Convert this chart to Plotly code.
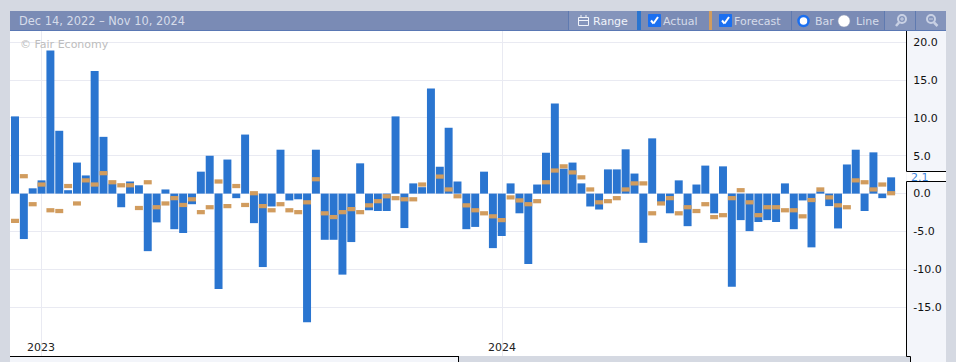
import plotly.graph_objects as go

actual = [10.2,-6.0,0.7,1.75,18.9,8.3,0.45,4.1,2.4,16.2,
          7.5,1.3,-1.8,1.6,1.1,-7.6,-3.8,0.55,-4.7,-5.2,
          -1.4,2.9,5.0,-12.6,4.5,-0.6,7.8,-3.9,-9.7,-1.7,
          5.8,-0.9,-0.75,-17.0,5.8,-6.1,-6.1,-10.7,-6.4,4.0,
          -2.2,-2.3,-2.3,10.2,-4.55,1.35,0.85,13.9,3.55,8.7,
          1.6,-4.7,-4.4,2.9,-7.2,-5.6,1.35,-2.6,-9.3,1.2,
          5.4,11.9,3.3,4.1,1.35,-1.7,-2.1,3.2,3.2,5.85,
          2.65,-6.5,7.3,-1.1,-2.6,1.75,-4.3,1.2,3.7,-2.6,
          3.6,-12.3,-3.5,-4.95,-3.75,-3.5,-3.75,1.35,-4.7,-0.9,
          -7.1,0.3,-1.65,-4.6,3.85,5.8,-2.3,5.45,-0.6,2.15]
forecast = [-3.6,2.3,-1.4,1.2,-2.2,-2.3,1.0,-1.3,1.75,1.2,
            2.7,1.5,1.1,1.1,-1.9,1.5,-1.8,-1.3,-0.6,-1.5,
            -0.75,-2.45,-1.8,1.6,-1.65,1.0,-1.5,0.05,-1.65,-2.2,
            -1.4,-2.2,-2.45,-1.15,1.9,-2.6,-3.1,-2.45,-2.05,-2.45,
            -1.55,-1.0,-0.35,-0.6,-0.75,-0.75,1.2,None,2.25,0.55,
            -0.35,-1.55,-2.2,-2.6,-3.0,-3.5,-0.5,-0.9,-1.4,-1.0,
            1.5,3.05,3.6,2.8,2.15,0.55,-1.15,-1.0,-0.6,0.55,
            1.35,1.35,-2.6,-1.3,-0.6,-2.6,-1.8,-2.3,-1.4,-3.1,
            -2.85,-0.6,0.45,-1.15,-2.85,-1.8,-1.8,-2.2,-2.2,-3.0,
            -0.85,0.55,-0.5,-1.55,-1.8,1.75,1.5,0.55,1.2,0.05]
weeks = list(range(len(actual)))
y_ticks = [20,15,10,5,0,-5,-10,-15]
y_labels = ["20.0","15.0","10.0","5.0","0.0","-5.0","-10.0","-15.0"]
x_ticks = [2.94,55.03]
x_labels = ["2023","2024"]
date_range = "Dec 14, 2022 \u2013 Nov 10, 2024"
latest = "2.1"

W, H = 956, 362
BLUE = "#2a75d0"; ORANGE = "#d19c5e"; GREY = "#d5d9e2"; PANEL = "#f3f5fa"
HEAD = "#7a8bb5"; HEAD2 = "#8494bb"; DIV = "#5f7ab0"; TXT = "#d6dcea"
FONT = "DejaVu Sans"
fx = lambda v: v / W
fy = lambda v: 1 - v / H

shapes, notes = [], []
def rect(x0, y0, x1, y1, fill, layer="above", line=None, lw=0):
    shapes.append(dict(type="rect", xref="paper", yref="paper", x0=fx(x0), x1=fx(x1), y0=fy(y0), y1=fy(y1),
                       fillcolor=fill, layer=layer, line=dict(color=line or fill, width=lw)))
def seg(x0, y0, x1, y1, color="#000000", lw=1, layer="above"):
    shapes.append(dict(type="line", xref="paper", yref="paper", x0=fx(x0), x1=fx(x1), y0=fy(y0), y1=fy(y1),
                       layer=layer, line=dict(color=color, width=lw)))
def circ(cx, cy, r, fill, line, lw):
    shapes.append(dict(type="circle", xref="paper", yref="paper", x0=fx(cx-r), x1=fx(cx+r), y0=fy(cy+r), y1=fy(cy-r),
                       fillcolor=fill, layer="above", line=dict(color=line, width=lw)))
def label(x, y, t, color=TXT, size=11, anchor="left"):
    notes.append(dict(text=t, xref="paper", yref="paper", x=fx(x), y=fy(y), xanchor=anchor, yanchor="middle",
                      showarrow=False, font=dict(family=FONT, size=size, color=color), borderpad=0, borderwidth=0))

# axis panel and bottom strip
rect(906, 31, 946, 362, PANEL, layer="below")
rect(10, 356, 459, 362, PANEL, layer="above")
rect(459, 356, 910, 362, GREY, layer="above")
rect(910, 356, 946, 362, PANEL, layer="above")
rect(907, 171.5, 946, 181.5, "#ffffff", layer="above")
seg(906.5, 31, 906.5, 171.5); seg(906.5, 171.5, 946, 171.5)
seg(906.5, 181.5, 946, 181.5); seg(906.5, 181.5, 906.5, 356.5)
seg(906.5, 356.5, 910.5, 356.5); seg(910.5, 356.5, 910.5, 362)
seg(10, 356.5, 459, 356.5); seg(458.5, 356.5, 458.5, 362)
label(911, 177, latest, color="#3d85dc")

# header
rect(10, 11, 946, 30.5, HEAD)
seg(10, 30.5, 946, 30.5, color="#5a78b4", lw=1)
rect(568, 11, 637, 30, HEAD2)
rect(884, 11, 946, 30, HEAD2)
for x in (568.5, 791.5, 884.5, 915.5):
    seg(x, 11, x, 30, color=DIV)
rect(637, 11, 641, 30, BLUE)
rect(709, 11, 712, 30, ORANGE)
label(19, 21, date_range, size=11.4)
label(593, 21.5, "Range", color="#f0f3fa")
label(663, 21.5, "Actual")
label(734, 21.5, "Forecast")
label(815, 21.5, "Bar")
label(856, 21.5, "Line")
# calendar icon
rect(578.5, 17.5, 588.5, 25.5, "rgba(0,0,0,0)", line="#f0f3fa", lw=1)
seg(578.5, 20.5, 588.5, 20.5, color="#f0f3fa")
seg(581, 15, 581, 18, color="#f0f3fa"); seg(586, 15, 586, 18, color="#f0f3fa")
# check boxes
for x in (648, 719):
    rect(x + 0.5, 14.5, x + 12.5, 26.5, "#1a6ff0", line="#1a6ff0", lw=1)
    seg(x + 3, 20.5, x + 5.5, 23.5, color="#ffffff", lw=2)
    seg(x + 5.5, 23.5, x + 10, 17, color="#ffffff", lw=2)
# radios
circ(803.5, 21, 5, "#ffffff", "#1a6ff0", 2.5)
circ(844, 21, 6, "#ffffff", "#9aa3b8", 0.5)
# magnifiers
ICON = "#c9d1e4"
circ(902, 19, 4, "rgba(0,0,0,0)", ICON, 2)
seg(899, 22.5, 896, 26, color=ICON, lw=2.5)
seg(900, 19, 904, 19, color=ICON); seg(902, 17, 902, 21, color=ICON)
circ(931, 19, 4, "rgba(0,0,0,0)", ICON, 2)
seg(934, 22.5, 937.5, 26, color=ICON, lw=2.5)
seg(929, 19, 933, 19, color=ICON)

label(20, 44, "\u00a9 Fair Economy", color="#bdbdbd")

bar_h = 0.56
has_f = [f is not None for f in forecast]
fig = go.Figure()
fig.add_bar(x=weeks, y=actual, width=0.9, marker=dict(color=BLUE, line=dict(width=0)), name="Actual")
fig.add_bar(x=[w for w, k in zip(weeks, has_f) if k],
            y=[bar_h] * sum(has_f),
            base=[f - bar_h / 2 for f in forecast if f is not None],
            width=0.9, marker=dict(color=ORANGE, line=dict(width=0)), name="Forecast")

fig.update_layout(
    width=W, height=H, margin=dict(l=0, r=0, t=0, b=0), autosize=False,
    paper_bgcolor=GREY, plot_bgcolor="#ffffff", barmode="overlay", showlegend=False,
    font=dict(family=FONT, size=11, color="#111111"),
    shapes=shapes, annotations=notes,
    xaxis=dict(domain=[fx(10), fx(906)], range=[-0.565, 100.68], tickmode="array", tickvals=x_ticks, ticktext=x_labels,
               showgrid=True, gridcolor="#e9eaf2", gridwidth=1, zeroline=False, showline=False,
               ticks="", ticklabelposition="inside", tickfont=dict(family=FONT, size=11, color="#222222")),
    yaxis=dict(domain=[fy(356), fy(31)], range=[-21.45, 21.48], side="right", tickmode="array", tickvals=y_ticks, ticktext=y_labels,
               showgrid=True, gridcolor="#e9eaf2", gridwidth=1, zeroline=False, showline=False,
               ticks="outside", ticklen=4, tickcolor="rgba(0,0,0,0)", tickfont=dict(family=FONT, size=11, color="#111111")),
)
fig.write_html("out.html", config=dict(displayModeBar=False),
               post_script="document.body.style.margin='0';document.documentElement.style.overflow='hidden';")
